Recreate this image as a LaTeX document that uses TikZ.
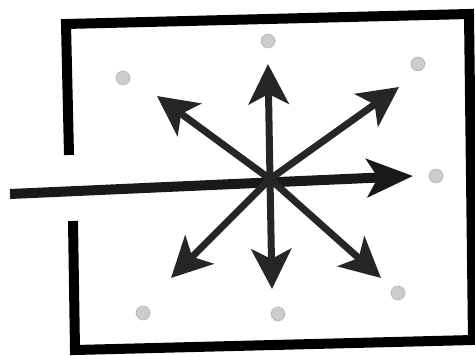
\documentclass[tikz,border=0pt]{standalone}
\usetikzlibrary{arrows.meta}
\begin{document}
\begin{tikzpicture}[x=1pt,y=-1pt,
  frame/.style={line width=10pt,black,line cap=butt,line join=miter},
  ray/.style={line width=7pt,black!85,-{Stealth[length=40pt,width=40pt,inset=10pt]}},
  mainray/.style={line width=10pt,black!90,-{Stealth[length=46pt,width=38pt,inset=11pt]}},
  atom/.style={circle,minimum size=14pt,inner sep=0pt,fill=gray!40,draw=gray!80,densely dotted,line width=0.8pt}]
\useasboundingbox (0,0) rectangle (475,356);
\fill[white] (0,0) rectangle (475,356);
% frame
\draw[frame] (69,155) -- (66,24) -- (469,14) -- (473,340) -- (75,350) -- (73,221);
% centre and tips
\coordinate (c) at (270,179);
\coordinate (tu) at (268,64);
\coordinate (td) at (272,289);
\coordinate (tul) at (157,96);
\coordinate (tur) at (399,87);
\coordinate (tdl) at (171,278);
\coordinate (tdr) at (381,278);
\coordinate (hl) at (10,194);
\coordinate (hr) at (413,176);
% rays
\draw[mainray] (hl) -- (hr);
\foreach \t in {tu,td,tul,tur,tdl,tdr} \draw[ray] (c) -- (\t);
% atoms
\node[atom] (a1) at (123,78) {};
\node[atom] (a2) at (268,41) {};
\node[atom] (a3) at (418,64) {};
\node[atom] (a4) at (436,176) {};
\node[atom] (a5) at (398,293) {};
\node[atom] (a6) at (278,314) {};
\node[atom] (a7) at (143,313) {};
\end{tikzpicture}
\end{document}
